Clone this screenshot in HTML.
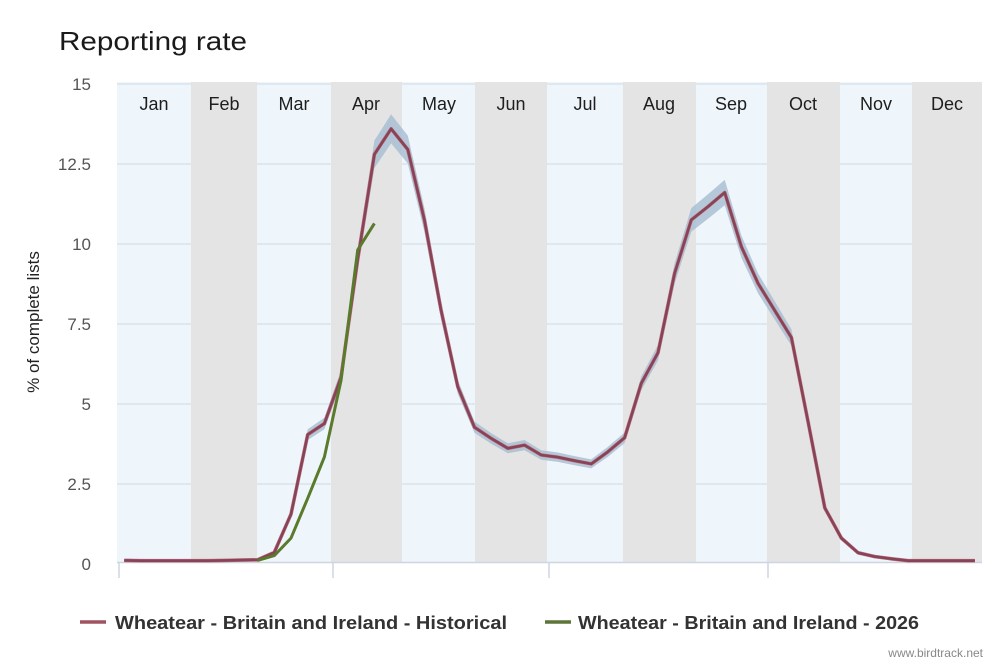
<!DOCTYPE html>
<html><head><meta charset="utf-8"><style>
html,body{margin:0;padding:0;background:#fff;}
svg{display:block;font-family:"Liberation Sans",Arial,sans-serif;}
</style></head><body>
<svg width="999" height="666" viewBox="0 0 999 666" xmlns="http://www.w3.org/2000/svg">
<rect width="999" height="666" fill="#fff"/>
<text x="59" y="50" font-size="26" fill="#1a1a1a" textLength="188" lengthAdjust="spacingAndGlyphs">Reporting rate</text>
<!-- light background -->
<rect x="117" y="82" width="865" height="480" fill="#eef5fb"/>
<!-- gridlines -->
<g stroke="#d6dfe8" stroke-width="1.2">
<line x1="117" x2="982" y1="84" y2="84"/>
<line x1="117" x2="982" y1="164" y2="164"/>
<line x1="117" x2="982" y1="244" y2="244"/>
<line x1="117" x2="982" y1="324" y2="324"/>
<line x1="117" x2="982" y1="404" y2="404"/>
<line x1="117" x2="982" y1="484" y2="484"/>
</g>
<!-- gray bands -->
<g fill="#e4e4e4">
<rect x="191" y="82" width="66" height="480"/>
<rect x="331" y="82" width="71" height="480"/>
<rect x="475" y="82" width="72" height="480"/>
<rect x="623" y="82" width="73" height="480"/>
<rect x="767" y="82" width="73" height="480"/>
<rect x="912" y="82" width="70" height="480"/>
</g>
<line x1="117" x2="982" y1="562.5" y2="562.5" stroke="#cdd6e0" stroke-width="1.5"/>
<g stroke="#ccd6e0" stroke-width="1.5">
<line x1="119" x2="119" y1="563" y2="578"/>
<line x1="333" x2="333" y1="563" y2="578"/>
<line x1="549" x2="549" y1="563" y2="578"/>
<line x1="768" x2="768" y1="563" y2="578"/>
</g>
<!-- month labels -->
<g font-size="18" fill="#1e1e1e" text-anchor="middle">
<text x="154" y="110">Jan</text>
<text x="224" y="110">Feb</text>
<text x="294" y="110">Mar</text>
<text x="366" y="110">Apr</text>
<text x="439" y="110">May</text>
<text x="511" y="110">Jun</text>
<text x="585" y="110">Jul</text>
<text x="659" y="110">Aug</text>
<text x="731" y="110">Sep</text>
<text x="803" y="110">Oct</text>
<text x="876" y="110">Nov</text>
<text x="947" y="110">Dec</text>
</g>
<!-- y tick labels -->
<g font-size="17" fill="#555" text-anchor="end">
<text x="91" y="90">15</text>
<text x="91" y="170">12.5</text>
<text x="91" y="250">10</text>
<text x="91" y="330">7.5</text>
<text x="91" y="410">5</text>
<text x="91" y="490">2.5</text>
<text x="91" y="570">0</text>
</g>
<text transform="translate(39,322) rotate(-90)" font-size="17" fill="#222" text-anchor="middle">% of complete lists</text>
<g id="series"></g>
<!-- legend -->
<line x1="80" x2="106" y1="622" y2="622" stroke="#a0525e" stroke-width="3.5"/>
<text x="115" y="629" font-size="18" font-weight="bold" fill="#333" textLength="392" lengthAdjust="spacingAndGlyphs">Wheatear - Britain and Ireland - Historical</text>
<line x1="545" x2="571" y1="622" y2="622" stroke="#5d7538" stroke-width="3.5"/>
<text x="578" y="629" font-size="18" font-weight="bold" fill="#333" textLength="341" lengthAdjust="spacingAndGlyphs">Wheatear - Britain and Ireland - 2026</text>
<text x="983" y="657" font-size="12" fill="#888" text-anchor="end">www.birdtrack.net</text>
</svg>
<script>
(function(){
var h=[0.05,0.04,0.04,0.04,0.04,0.04,0.05,0.06,0.07,0.3,1.5,4.0,4.35,5.8,9.5,12.8,13.6,12.95,10.74,7.9,5.5,4.23,3.88,3.57,3.67,3.36,3.29,3.18,3.08,3.46,3.9,5.61,6.57,9.06,10.74,11.16,11.6,9.9,8.75,7.9,7.05,4.4,1.7,0.75,0.29,0.17,0.1,0.04,0.04,0.04,0.04,0.04];
var g={8:0.05,9:0.2,10:0.75,11:2.0,12:3.3,13:5.7,14:9.8,15:10.63};
function X(i){return 124.2+16.68*i;}
function Y(v){return 562-31.85*v;}
var ns="http://www.w3.org/2000/svg";
var grp=document.getElementById("series");
var up=[],lo=[];
for(var i=0;i<h.length;i++){var e=0.03*h[i]+0.05;up.push(X(i).toFixed(1)+","+Y(h[i]+e).toFixed(1));lo.unshift(X(i).toFixed(1)+","+Y(Math.max(0,h[i]-e)).toFixed(1));}
var poly=document.createElementNS(ns,"polygon");
poly.setAttribute("points",up.concat(lo).join(" "));
poly.setAttribute("fill","#a9bfd4");poly.setAttribute("fill-opacity","0.85");
grp.appendChild(poly);
var pts=[];for(var i=0;i<h.length;i++)pts.push(X(i).toFixed(1)+","+Y(h[i]).toFixed(1));
var pl=document.createElementNS(ns,"polyline");
pl.setAttribute("points",pts.join(" "));pl.setAttribute("fill","none");pl.setAttribute("stroke","#c07080");pl.setAttribute("stroke-width","3.6");pl.setAttribute("stroke-linejoin","round");
grp.appendChild(pl);
var pl2=pl.cloneNode();pl2.setAttribute("stroke","#864456");pl2.setAttribute("stroke-width","2.6");grp.appendChild(pl2);
var gp=[];for(var k in g)gp.push(X(+k).toFixed(1)+","+Y(g[k]).toFixed(1));
var gl=document.createElementNS(ns,"polyline");
gl.setAttribute("points",gp.join(" "));gl.setAttribute("fill","none");gl.setAttribute("stroke","#5a7a2c");gl.setAttribute("stroke-width","3");gl.setAttribute("stroke-linejoin","round");
grp.appendChild(gl);
})();
</script>
</body></html>
